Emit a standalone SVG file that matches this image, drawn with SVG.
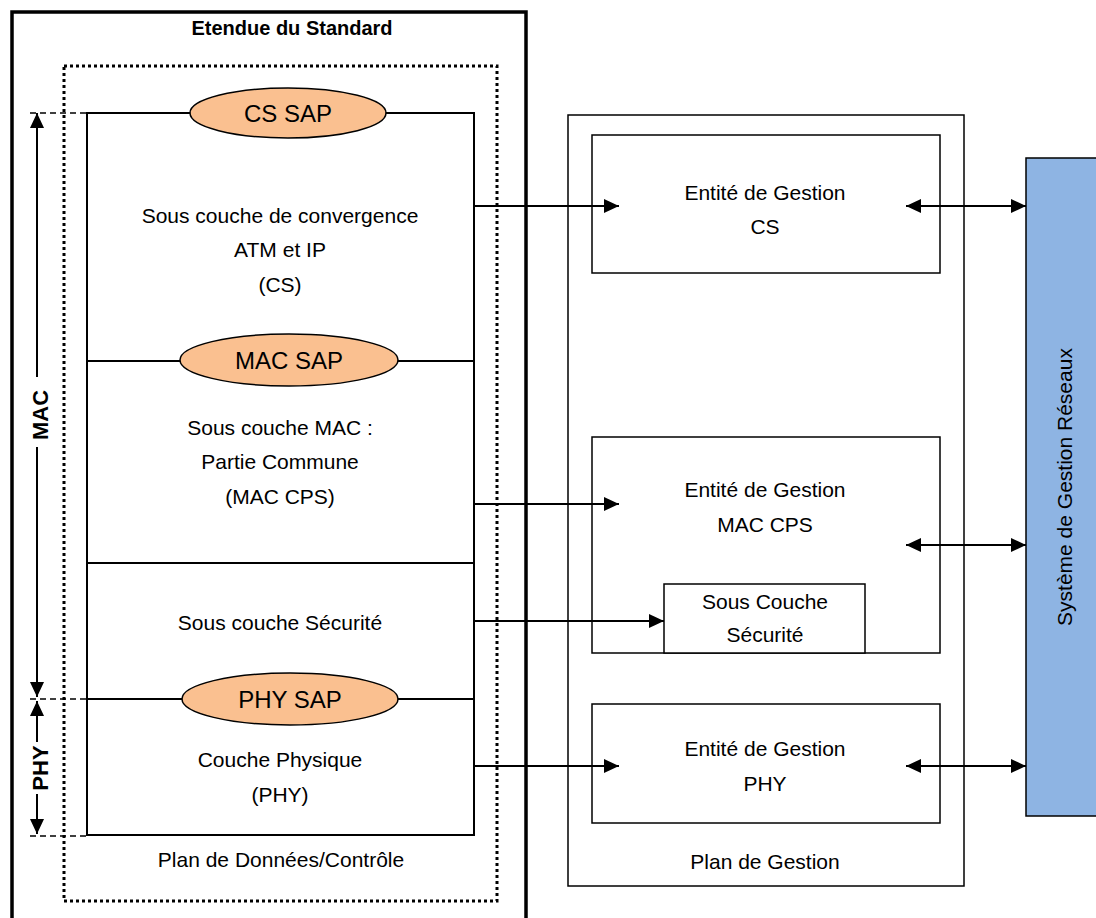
<svg xmlns="http://www.w3.org/2000/svg" width="1096" height="918" viewBox="0 0 1096 918">
<style>
text{font-family:"Liberation Sans",Arial,sans-serif;font-size:21px;fill:#000;text-anchor:middle}
.b{font-weight:bold}
.box{fill:#fff;stroke:#000;stroke-width:1.5}
.sap{fill:#FAC090;stroke:#000;stroke-width:1.5}
.ln{stroke:#000;stroke-width:2;fill:none}
.dash{stroke:#000;stroke-width:1.5;stroke-dasharray:6,4;fill:none}
.arr{stroke:#000;stroke-width:2;fill:none;marker-end:url(#ah)}
.darr{stroke:#000;stroke-width:2;fill:none;marker-end:url(#ah);marker-start:url(#ah)}
</style>
<defs>
<marker id="ah" viewBox="0 0 15 14" refX="15" refY="7" markerWidth="15" markerHeight="14" markerUnits="userSpaceOnUse" orient="auto-start-reverse">
<path d="M0,0 L15,7 L0,14 z" fill="#000"/>
</marker>
</defs>
<rect width="1096" height="918" fill="#fff"/>

<g id="standard">
<rect x="12" y="12" width="514" height="920" fill="none" stroke="#000" stroke-width="3.5"/>
<text class="b" x="292" y="35" style="font-size:20px">Etendue du Standard</text>
</g>

<g id="plan-donnees">
<rect x="64" y="66" width="433" height="835" fill="none" stroke="#000" stroke-width="3" stroke-dasharray="3,3"/>
<text x="281" y="867">Plan de Données/Contrôle</text>
</g>

<g id="couches">
<rect x="87" y="113" width="387" height="722" class="ln"/>
<line x1="87" y1="361" x2="474" y2="361" class="ln"/>
<line x1="87" y1="563" x2="474" y2="563" class="ln"/>
<line x1="87" y1="699" x2="474" y2="699" class="ln"/>
</g>

<g id="cs-sap">
<ellipse cx="288" cy="113" rx="98" ry="25" class="sap"/>
<text x="288" y="122" style="font-size:24px">CS SAP</text>
</g>
<g id="cs">
<text x="280" y="223">Sous couche de convergence</text>
<text x="280" y="257">ATM et IP</text>
<text x="280" y="292">(CS)</text>
</g>

<g id="mac-sap">
<ellipse cx="289" cy="360" rx="109" ry="26" class="sap"/>
<text x="289" y="369" style="font-size:24px">MAC SAP</text>
</g>
<g id="mac-cps">
<text x="280" y="435">Sous couche MAC :</text>
<text x="280" y="469">Partie Commune</text>
<text x="280" y="504">(MAC CPS)</text>
</g>

<g id="securite">
<text x="280" y="630">Sous couche Sécurité</text>
</g>

<g id="phy-sap">
<ellipse cx="290" cy="699" rx="108" ry="26" class="sap"/>
<text x="290" y="708" style="font-size:24px">PHY SAP</text>
</g>
<g id="phy">
<text x="280" y="767">Couche Physique</text>
<text x="280" y="802">(PHY)</text>
</g>

<g id="dimensions">
<line x1="30" y1="113" x2="87" y2="113" class="dash"/>
<line x1="30" y1="699" x2="87" y2="699" class="dash"/>
<line x1="30" y1="836" x2="87" y2="836" class="dash"/>
<text class="b" transform="translate(48,415) rotate(-90)" style="font-size:22px">MAC</text>
<text class="b" transform="translate(48,768) rotate(-90)" style="font-size:22px">PHY</text>
</g>

<g id="plan-gestion">
<rect x="568" y="115" width="396" height="771" class="box" stroke-width="1.2"/>
<text x="765" y="869">Plan de Gestion</text>
</g>

<g id="entite-cs">
<rect x="592" y="135" width="348" height="138" class="box"/>
<text x="765" y="200">Entité de Gestion</text>
<text x="765" y="234">CS</text>
</g>

<g id="entite-mac">
<rect x="592" y="437" width="348" height="216" class="box"/>
<text x="765" y="497">Entité de Gestion</text>
<text x="765" y="532">MAC CPS</text>
</g>

<g id="sous-couche-securite">
<rect x="664" y="584" width="201" height="69" class="box"/>
<text x="765" y="609">Sous Couche</text>
<text x="765" y="642">Sécurité</text>
</g>

<g id="entite-phy">
<rect x="592" y="704" width="348" height="119" class="box"/>
<text x="765" y="756">Entité de Gestion</text>
<text x="765" y="791">PHY</text>
</g>

<g id="systeme-gestion">
<rect x="1026" y="158" width="80" height="658" fill="#8EB4E3" stroke="#000" stroke-width="1.5"/>
<text transform="translate(1072,487) rotate(-90)">Système de Gestion Réseaux</text>
</g>

<g id="connectors">
<line x1="37" y1="377" x2="37" y2="113" class="arr"/>
<line x1="37" y1="447" x2="37" y2="697" class="arr"/>
<line x1="37" y1="742" x2="37" y2="701" class="arr"/>
<line x1="37" y1="794" x2="37" y2="834" class="arr"/>
<line x1="474" y1="206" x2="619" y2="206" class="arr"/>
<line x1="474" y1="504" x2="619" y2="504" class="arr"/>
<line x1="474" y1="621" x2="664" y2="621" class="arr"/>
<line x1="474" y1="766" x2="619" y2="766" class="arr"/>
<line x1="906" y1="206" x2="1026" y2="206" class="darr"/>
<line x1="906" y1="545" x2="1026" y2="545" class="darr"/>
<line x1="906" y1="766" x2="1026" y2="766" class="darr"/>
</g>
</svg>
